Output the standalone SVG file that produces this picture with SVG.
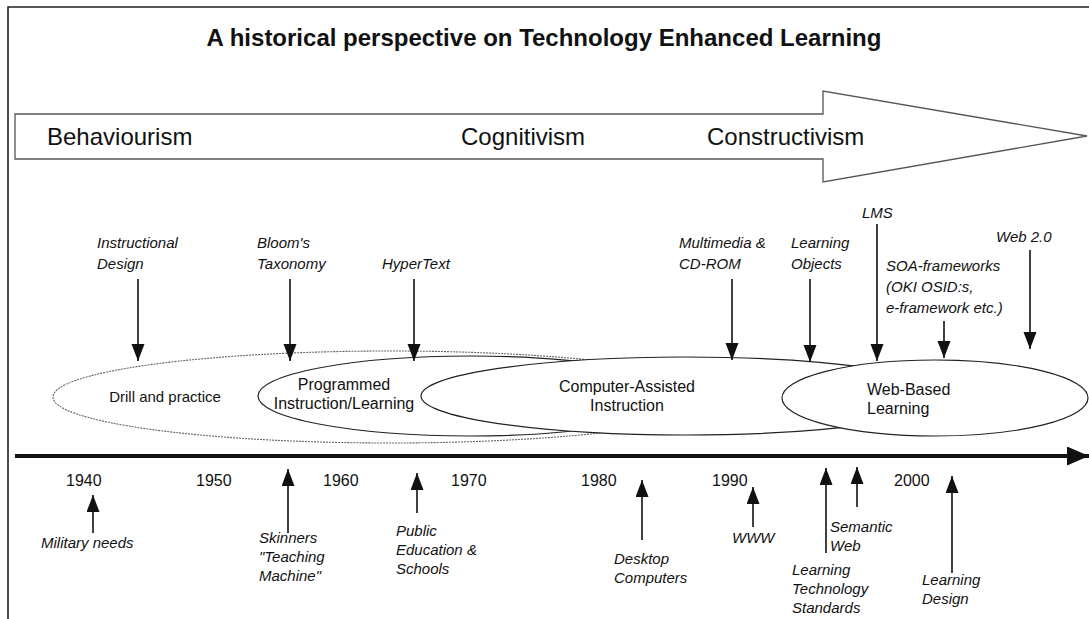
<svg xmlns="http://www.w3.org/2000/svg" width="1089" height="619" viewBox="0 0 1089 619">
  <style>
    text { font-family: "Liberation Sans", Arial, sans-serif; fill: #111; }
    .title { font-size: 24px; font-weight: bold; }
    .era { font-size: 24px; }
    .phase { font-size: 16px; }
    .phase.small { font-size: 15px; }
    .event { font-size: 15px; font-style: italic; }
    .year { font-size: 16px; }
    .link { stroke: #111; stroke-width: 1.6; fill: none; }
    .frame { stroke: #222; stroke-width: 1.6; fill: none; }
  </style>
  <defs>
    <marker id="head" markerUnits="userSpaceOnUse" markerWidth="18" markerHeight="14" refX="17" refY="6.5" orient="auto">
      <path d="M0,0 L17,6.5 L0,13 Z" fill="#111"/>
    </marker>
    <marker id="axisHead" markerUnits="userSpaceOnUse" markerWidth="24" markerHeight="20" refX="22" refY="9.5" orient="auto">
      <path d="M0,0 L22,9.5 L0,19 Z" fill="#111"/>
    </marker>
  </defs>

  <rect width="1089" height="619" fill="#fff"/>

  <!-- page frame (left and top edges) -->
  <path class="frame" d="M8,619 L8,7 L1089,7"/>

  <text class="title" x="544" y="46" text-anchor="middle">A historical perspective on Technology Enhanced Learning</text>

  <!-- learning theory arrow -->
  <g id="theories">
    <polygon points="15,114 823,114 823,91 1087,136 823,182 823,159 15,159" fill="#fff" stroke="#555" stroke-width="1.3"/>
    <text class="era" x="47" y="145">Behaviourism</text>
    <text class="era" x="461" y="145">Cognitivism</text>
    <text class="era" x="707" y="145">Constructivism</text>
  </g>

  <!-- phases of technology enhanced learning -->
  <g id="drill">
    <ellipse cx="390" cy="397" rx="337" ry="46" fill="#fff" stroke="#666" stroke-width="1.1" stroke-dasharray="2 1"/>
    <text class="phase small" x="165" y="402" text-anchor="middle">Drill and practice</text>
  </g>
  <g id="programmed">
    <ellipse cx="470" cy="396" rx="212" ry="40" fill="#fff" stroke="#222" stroke-width="1.2"/>
    <text class="phase" x="344" y="390" text-anchor="middle">Programmed</text>
    <text class="phase" x="344" y="409" text-anchor="middle">Instruction/Learning</text>
  </g>
  <g id="cai">
    <ellipse cx="685" cy="396" rx="264" ry="39" fill="#fff" stroke="#222" stroke-width="1.2"/>
    <text class="phase" x="627" y="392" text-anchor="middle">Computer-Assisted</text>
    <text class="phase" x="627" y="411" text-anchor="middle">Instruction</text>
  </g>
  <g id="wbl">
    <ellipse cx="935" cy="398" rx="153" ry="38" fill="#fff" stroke="#222" stroke-width="1.2"/>
    <text class="phase" x="867" y="395">Web-Based</text>
    <text class="phase" x="867" y="414">Learning</text>
  </g>

  <!-- pedagogical and technical influences above the phases -->
  <g id="instructional-design">
    <text class="event" x="97" y="248">Instructional</text>
    <text class="event" x="97" y="269">Design</text>
  </g>
  <g id="blooms-taxonomy">
    <text class="event" x="257" y="248">Bloom's</text>
    <text class="event" x="257" y="269">Taxonomy</text>
  </g>
  <g id="hypertext">
    <text class="event" x="382" y="269">HyperText</text>
  </g>
  <g id="multimedia">
    <text class="event" x="679" y="248">Multimedia &amp;</text>
    <text class="event" x="679" y="269">CD-ROM</text>
  </g>
  <g id="learning-objects">
    <text class="event" x="791" y="248">Learning</text>
    <text class="event" x="791" y="269">Objects</text>
  </g>
  <g id="lms">
    <text class="event" x="862" y="218">LMS</text>
  </g>
  <g id="web2">
    <text class="event" x="996" y="242">Web 2.0</text>
  </g>
  <g id="soa">
    <text class="event" x="886" y="271">SOA-frameworks</text>
    <text class="event" x="886" y="292">(OKI OSID:s,</text>
    <text class="event" x="886" y="313">e-framework etc.)</text>
  </g>

  <!-- time axis -->
  <g id="timeline">
    <line x1="15" y1="456" x2="1089" y2="456" stroke="#111" stroke-width="4" marker-end="url(#axisHead)"/>
    <text class="year" x="66" y="486">1940</text>
    <text class="year" x="196" y="486">1950</text>
    <text class="year" x="323" y="486">1960</text>
    <text class="year" x="451" y="486">1970</text>
    <text class="year" x="581" y="486">1980</text>
    <text class="year" x="712" y="486">1990</text>
    <text class="year" x="894" y="486">2000</text>
  </g>

  <!-- driving events below the time axis -->
  <g id="military">
    <text class="event" x="41" y="548">Military needs</text>
  </g>
  <g id="skinner">
    <text class="event" x="259" y="543">Skinners</text>
    <text class="event" x="259" y="562">"Teaching</text>
    <text class="event" x="259" y="581">Machine"</text>
  </g>
  <g id="public-education">
    <text class="event" x="396" y="536">Public</text>
    <text class="event" x="396" y="555">Education &amp;</text>
    <text class="event" x="396" y="574">Schools</text>
  </g>
  <g id="desktop">
    <text class="event" x="614" y="564">Desktop</text>
    <text class="event" x="614" y="583">Computers</text>
  </g>
  <g id="www">
    <text class="event" x="732" y="543">WWW</text>
  </g>
  <g id="lt-standards">
    <text class="event" x="792" y="575">Learning</text>
    <text class="event" x="792" y="594">Technology</text>
    <text class="event" x="792" y="613">Standards</text>
  </g>
  <g id="semantic-web">
    <text class="event" x="830" y="532">Semantic</text>
    <text class="event" x="830" y="551">Web</text>
  </g>
  <g id="learning-design">
    <text class="event" x="922" y="585">Learning</text>
    <text class="event" x="922" y="604">Design</text>
  </g>

  <!-- connectors -->
  <g id="connectors" class="link">
    <line x1="138" y1="279" x2="138" y2="361" marker-end="url(#head)"/>
    <line x1="290" y1="279" x2="290" y2="361" marker-end="url(#head)"/>
    <line x1="414" y1="279" x2="414" y2="361" marker-end="url(#head)"/>
    <line x1="732" y1="279" x2="732" y2="360" marker-end="url(#head)"/>
    <line x1="810" y1="279" x2="810" y2="362" marker-end="url(#head)"/>
    <line x1="877" y1="224" x2="877" y2="361" marker-end="url(#head)"/>
    <line x1="944" y1="321" x2="944" y2="358" marker-end="url(#head)"/>
    <line x1="1030" y1="250" x2="1030" y2="349" marker-end="url(#head)"/>

    <line x1="93" y1="533" x2="93" y2="495" marker-end="url(#head)"/>
    <line x1="288" y1="533" x2="288" y2="469" marker-end="url(#head)"/>
    <line x1="417" y1="513" x2="417" y2="473" marker-end="url(#head)"/>
    <line x1="642" y1="540" x2="642" y2="480" marker-end="url(#head)"/>
    <line x1="753" y1="527" x2="753" y2="487" marker-end="url(#head)"/>
    <line x1="826" y1="553" x2="826" y2="468" marker-end="url(#head)"/>
    <line x1="857" y1="507" x2="857" y2="467" marker-end="url(#head)"/>
    <line x1="952" y1="573" x2="952" y2="476" marker-end="url(#head)"/>
  </g>
</svg>
